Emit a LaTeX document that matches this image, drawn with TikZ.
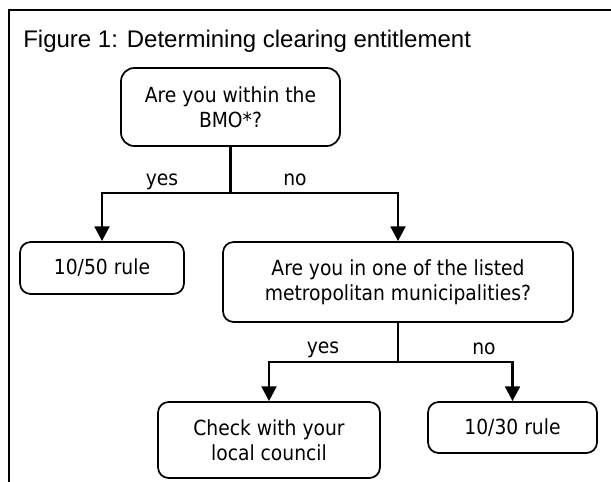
\documentclass[tikz,border=0pt]{standalone}
\usepackage{fontspec}
\setmainfont{Liberation Sans}
\IfFontExistsTF{DejaVu Sans Condensed}{\newfontfamily\nodeff{DejaVu Sans Condensed}\def\nodesize{15.6}}{\newfontfamily\nodeff{DejaVu Sans}\def\nodesize{14}}
\usetikzlibrary{arrows.meta}
\tikzset{
  box/.style={draw, line width=1.3pt, rounded corners=8pt, inner sep=0pt, align=center,
    font={\nodeff\fontsize{\nodesize}{18.75}\selectfont}},
  conn/.style={line width=2pt},
  arr/.style={conn, -{Triangle[length=11pt,width=11pt]}},
  lbl/.style={anchor=base, inner sep=0pt, font={\nodeff\fontsize{\nodesize}{18.75}\selectfont}},
  frame/.style={line width=1.5pt}
}
\begin{document}
\begin{tikzpicture}[x=0.75pt,y=-0.75pt]
\useasboundingbox (0,0) rectangle (611,482);
\draw[frame] (9,482) -- (9,10) -- (611,10);
\node[anchor=base west, inner sep=0pt, font={\fontsize{18}{21}\selectfont}] (title) at (23,47) {Figure 1: Determining clearing entitlement};
\node[box, minimum width=164.25pt, minimum height=58.5pt, rounded corners=10pt] (b1) at (230.5,107) {Are you within the\\BMO*?};
\node[box, minimum width=123pt, minimum height=39pt] (b10) at (102,268) {10/50 rule};
\node[box, minimum width=262.5pt, minimum height=60pt] (b2) at (398,282) {Are you in one of the listed\\metropolitan municipalities?};
\node[box, minimum width=166.5pt, minimum height=57pt] (b3) at (269,440) {Check with your\\local council};
\node[box, minimum width=126.75pt, minimum height=38.25pt] (b4) at (512.5,427.5) {10/30 rule};
\coordinate (j1) at (230.5,193);
\coordinate (j2) at (398,362);
\draw[conn] (b1.south) -- (j1);
\draw[arr] (j1) -| (b10.north);
\draw[arr] (j1) -| (b2.north);
\draw[conn] (b2.south) -- (j2);
\draw[arr] (j2) -| (b3.north);
\draw[arr] (j2) -| (b4.north);
\node[lbl] (y1) at (162,185) {yes};
\node[lbl] (n1) at (295,185) {no};
\node[lbl] (y2) at (323,353) {yes};
\node[lbl] (n2) at (484,354) {no};
\end{tikzpicture}
\end{document}
